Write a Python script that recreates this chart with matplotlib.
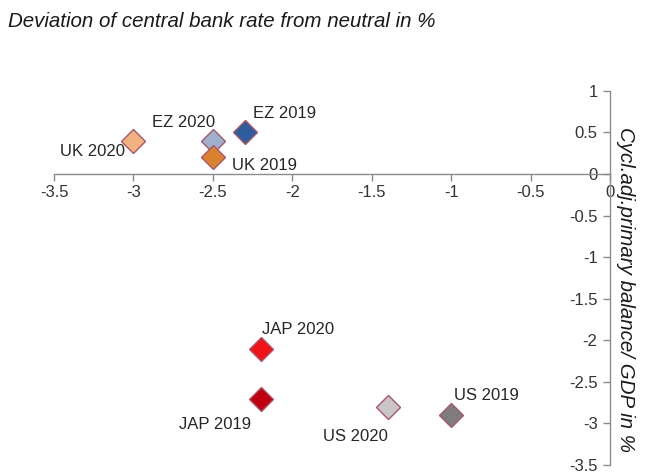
import matplotlib.pyplot as plt
from matplotlib.ticker import FuncFormatter

plt.rcParams['font.family'] = ['Liberation Sans', 'DejaVu Sans']

# ====== data: (rate deviation, cycl. adj. primary balance) ======
labels = ["UK 2020", "EZ 2020", "EZ 2019", "UK 2019", "JAP 2020", "JAP 2019", "US 2020", "US 2019"]
rate_dev = [-3.0, -2.5, -2.3, -2.5, -2.2, -2.2, -1.4, -1.0]
balance = [0.4, 0.4, 0.5, 0.2, -2.1, -2.7, -2.8, -2.9]
colors = ["#F2B27F", "#9FB0CE", "#2E5C9C", "#D9812F", "#F01419", "#C00010", "#C9C5C8", "#7E7C7E"]

# label offsets in points + alignment
label_pos = {
    "UK 2020": (-6, -8, "right", "center"),
    "EZ 2020": (1.5, 13.5, "right", "center"),
    "EZ 2019": (6, 14, "left", "center"),
    "UK 2019": (13.5, -6, "left", "center"),
    "JAP 2020": (1, 14, "left", "center"),
    "JAP 2019": (-6.5, -18.5, "right", "center"),
    "US 2020": (0, -21.5, "right", "center"),
    "US 2019": (2, 14, "left", "center"),
}

fig = plt.figure(figsize=(6.46, 4.76), dpi=100)
ax = fig.add_axes([0.0836, 0.023, 0.8607, 0.786])

for lab, x, y, c in zip(labels, rate_dev, balance, colors):
    ax.plot(x, y, marker='D', ms=12.5, color=c, mec='#A8566A', mew=1.0, ls='none', zorder=5)
    dx, dy, ha, va = label_pos[lab]
    ax.annotate(lab, (x, y), xytext=(dx, dy), textcoords='offset points',
                ha=ha, va=va, fontsize=12, color='#262626')

ax.set_xlim(-3.5, 0)
ax.set_ylim(-3.5, 1)
ax.set_xticks([-3.5, -3, -2.5, -2, -1.5, -1, -0.5, 0])
ax.set_yticks([1, 0.5, 0, -0.5, -1, -1.5, -2, -2.5, -3, -3.5])
fmt = FuncFormatter(lambda v, p: f"{v:g}".replace('\u2212', '-'))
ax.xaxis.set_major_formatter(fmt)
ax.yaxis.set_major_formatter(fmt)

# axes crossing at the origin
ax.spines['left'].set_position(('data', 0))
ax.spines['bottom'].set_position(('data', 0))
ax.spines['right'].set_visible(False)
ax.spines['top'].set_visible(False)
for s in ('left', 'bottom'):
    ax.spines[s].set_color('#8C8C8C')
    ax.spines[s].set_linewidth(1.0)
ax.tick_params(axis='both', colors='#8C8C8C', labelcolor='#333333', labelsize=12,
               length=5, width=1, direction='out')
ax.tick_params(axis='y', pad=4)
ax.tick_params(axis='x', pad=3)
ax.patch.set_alpha(0)

fig.text(0.012, 0.954, "Deviation of central bank rate from neutral in %", style='italic',
         fontsize=14.8, color='#1A1A1A', ha='left', va='center')
fig.text(0.968, 0.391, "Cycl.adj.primary balance/ GDP in %", style='italic', rotation=-90,
         fontsize=14.8, color='#1A1A1A', ha='center', va='center')

plt.savefig("out.png", dpi=100)
